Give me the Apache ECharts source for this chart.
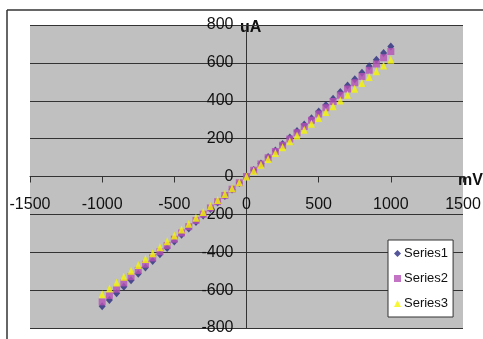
<!DOCTYPE html>
<html><head><meta charset="utf-8">
<script src="https://cdn.jsdelivr.net/npm/echarts@6/dist/echarts.min.js"></script>
<style>html,body{margin:0;padding:0;background:#fff}#c{width:483px;height:339px}</style>
</head><body><div id="c"></div>
<script>
const xValues = [-1000,-950,-900,-850,-800,-750,-700,-650,-600,-550,-500,-450,-400,-350,-300,-250,-200,-150,-100,-50,0,50,100,150,200,250,300,350,400,450,500,550,600,650,700,750,800,850,900,950,1000];
const series1 = [-685,-652,-617,-582,-548,-514,-480,-446,-411,-377,-343,-308,-274,-240,-206,-171,-137,-103,-69,-34,0,34,69,103,137,171,206,240,274,308,343,377,411,446,480,514,548,582,617,652,686];
const series2 = [-662,-628,-595,-562,-529,-496,-463,-430,-397,-364,-331,-298,-265,-232,-199,-166,-133,-100,-67,-33,0,33,66,99,132,165,198,231,264,297,330,363,396,429,462,495,528,561,594,627,660];
const series3 = [-622,-591,-560,-529,-498,-467,-436,-405,-373,-342,-311,-280,-249,-218,-187,-156,-124,-93,-62,-31,0,31,62,93,124,155,186,216,247,278,309,340,371,401,432,463,494,525,556,586,617];
const seriesNames = ['Series1','Series2','Series3'];
const xAxisName = 'mV';
const yAxisName = 'uA';

const pair = ys => xValues.map((x,i)=>[x, ys[i]]);
const font = 'Liberation Sans, Arial, sans-serif';
const G = {left:30,right:20,top:25,bottom:11};
const W = 483, H = 339;
const plotW = W - G.left - G.right, plotH = H - G.top - G.bottom;
const chart = echarts.init(document.getElementById('c'));
chart.setOption({
  backgroundColor:'#fff',
  animation:false,
  grid:{left:G.left,right:G.right,top:G.top,bottom:G.bottom,show:true,backgroundColor:'#c0c0c0',borderWidth:0,containLabel:false,outerBoundsMode:'none'},
  xAxis:{type:'value',min:-1500,max:1500,interval:500,position:'bottom',offset:-plotH/2,
    axisLine:{onZero:false,lineStyle:{color:'#333',width:1}},
    axisTick:{show:true,length:6,lineStyle:{color:'#333'}},
    axisLabel:{margin:20,color:'#111',fontSize:16,fontFamily:font,showMinLabel:true,showMaxLabel:true,hideOverlap:false,formatter:v=>String(v)},
    splitLine:{show:false}},
  yAxis:{type:'value',min:-800,max:800,interval:200,position:'left',offset:-plotW/2,
    axisLine:{onZero:false,lineStyle:{color:'#333',width:1}},
    axisTick:{show:true,length:4,lineStyle:{color:'#333'}},
    axisLabel:{margin:13,color:'#111',fontSize:16,fontFamily:font,showMinLabel:true,showMaxLabel:true,hideOverlap:false,formatter:v=>String(v)},
    splitLine:{show:true,lineStyle:{color:'#333',width:1}}},
  legend:{orient:'vertical',left:388,top:240,itemWidth:7,itemHeight:7,itemGap:12,
    padding:[7,5,7,6],backgroundColor:'#fff',borderColor:'#333',borderWidth:1,borderRadius:0,
    textStyle:{fontSize:13,fontFamily:font,color:'#111',padding:[0,0,0,-2]},
    data:seriesNames},
  graphic:[
    {type:'line',shape:{x1:7,y1:10,x2:483,y2:10},style:{stroke:'#333',lineWidth:1.5}},
    {type:'line',shape:{x1:7,y1:10,x2:7,y2:339},style:{stroke:'#333',lineWidth:1.5}},
    {type:'text',left:240,top:20,style:{text:yAxisName,font:'bold 16px '+font,fill:'#111'}},
    {type:'text',left:458,top:173,style:{text:xAxisName,font:'bold 16px '+font,fill:'#111'}}
  ],
  series:[
    {name:seriesNames[0],type:'scatter',symbol:'diamond',symbolSize:[7,8],itemStyle:{color:'#2b2b80'},data:pair(series1)},
    {name:seriesNames[1],type:'scatter',symbol:'rect',symbolSize:7,itemStyle:{color:'#b551b5'},data:pair(series2)},
    {name:seriesNames[2],type:'scatter',symbol:'triangle',symbolSize:[7,8],itemStyle:{color:'#f5f500'},data:pair(series3)}
  ]
});
</script></body></html>
